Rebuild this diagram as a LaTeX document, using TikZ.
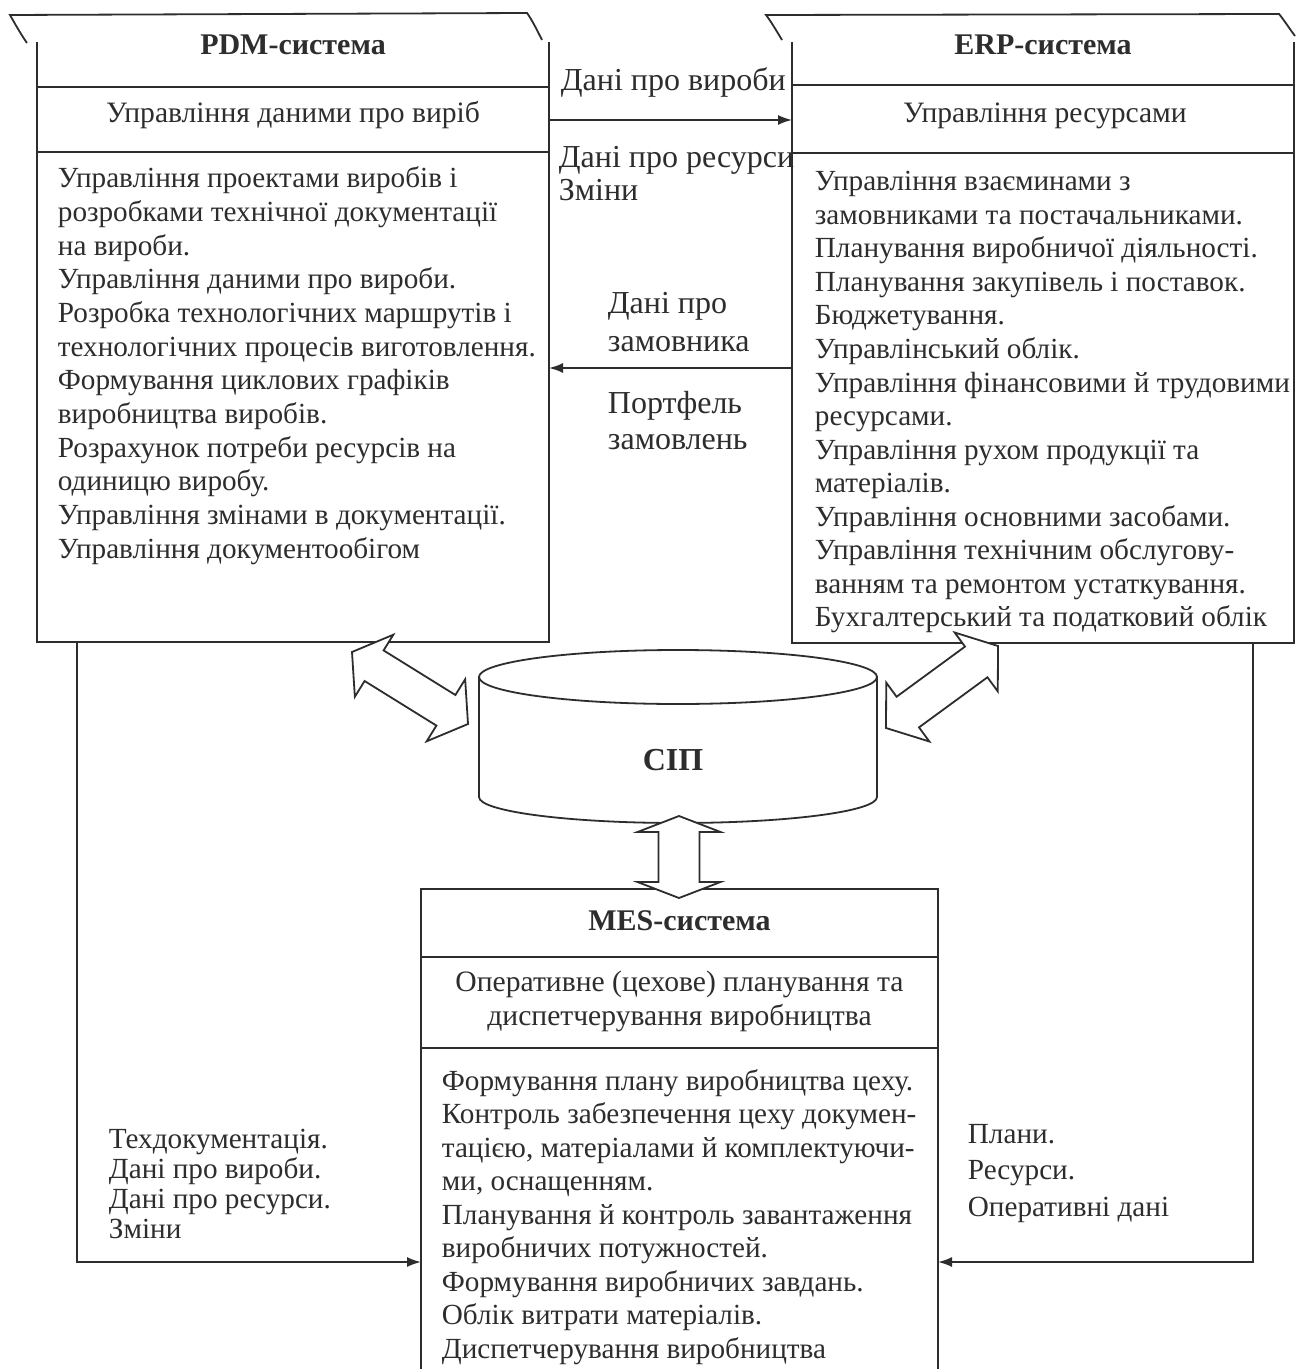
\documentclass[tikz,border=0pt]{standalone}
\usepackage{fontspec}
\setmainfont{Liberation Serif}
\usetikzlibrary{calc,arrows.meta}
\definecolor{ink}{RGB}{45,45,45}
\newcommand\dblarrow[5]{%
  \coordinate (#1h) at ($(#1)!#3!(#2)$);
  \coordinate (#2h) at ($(#2)!#3!(#1)$);
  \filldraw[blk] (#1)
    -- ($(#1h)!#4!90:(#2)$) -- ($(#1h)!#5!90:(#2)$)
    -- ($(#2h)!#5!-90:(#1)$) -- ($(#2h)!#4!-90:(#1)$)
    -- (#2)
    -- ($(#2h)!#4!90:(#1)$) -- ($(#2h)!#5!90:(#1)$)
    -- ($(#1h)!#5!-90:(#2)$) -- ($(#1h)!#4!-90:(#2)$)
    -- cycle;}
\begin{document}
\begin{tikzpicture}[x=0.5pt,y=-0.5pt,color=ink,line width=0.9pt,
  boxn/.style={draw=none,inner sep=0pt,outer sep=0pt},
  txt/.style={anchor=base west,inner sep=0pt,font=\fontsize{14.6}{17}\selectfont},
  mid/.style={anchor=base west,inner sep=0pt,font=\fontsize{16}{18}\selectfont},
  hdr/.style={anchor=base,inner sep=0pt,font=\bfseries\fontsize{15}{17}\selectfont},
  sub/.style={anchor=base,inner sep=0pt,font=\fontsize{14.8}{17}\selectfont},
  conn/.style={-{Latex[length=7pt,width=5pt]},line width=0.9pt},
  blk/.style={fill=white,draw=ink,line width=0.9pt,line join=miter}]
\fill[white] (0,0) rectangle (1295,1369);
\useasboundingbox (0,0) rectangle (1295,1369);

% ---------- boxes ----------
\node[boxn,minimum width=256pt,minimum height=300pt] (pdm) at (293,342) {};
\node[boxn,minimum width=251pt,minimum height=300.5pt] (erp) at (1043,342.5) {};
\node[boxn,minimum width=258.5pt,minimum height=240pt] (mes) at (679.5,1129) {};

% PDM
\draw (27,43) .. controls (20,33) and (14,22) .. (10,15) -- (527,13)
      .. controls (532,20) and (537,30) .. (542,40);
\draw (pdm.north west) -- (pdm.south west) -- (pdm.south east) -- (pdm.north east);
\draw (pdm.west |- 0,87) -- (pdm.east |- 0,87);
\draw (pdm.west |- 0,152) -- (pdm.east |- 0,152);
% ERP
\draw (782,40) .. controls (776,30) and (770,20) .. (766,15) -- (1279,14)
      .. controls (1284,20) and (1289,28) .. (1295,36);
\draw (erp.north west) -- (erp.south west) -- (erp.south east) -- (erp.north east);
\draw (erp.west |- 0,85) -- (erp.east |- 0,85);
\draw (erp.west |- 0,153) -- (erp.east |- 0,153);
% MES
\draw (mes.south west) -- (mes.north west) -- (mes.north east) -- (mes.south east);
\draw (mes.west |- 0,957) -- (mes.east |- 0,957);
\draw (mes.west |- 0,1048) -- (mes.east |- 0,1048);

% ---------- headers ----------
\node[hdr] (pdmh) at (293,55) {PDM-система};
\node[sub] (pdms) at (293,123) {Управління даними про виріб};
\node[hdr] (erph) at (1043,55) {ERP-система};
\node[sub] (erps) at (1045,123) {Управління ресурсами};
\node[hdr] (mesh) at (679.5,930) {MES-система};
\node[sub] (mess1) at (679.5,991) {Оперативне (цехове) планування та};
\node[sub] (mess2) at (679.5,1025) {диспетчерування виробництва};

% ---------- body texts ----------
\foreach \t [count=\i] in {Управління проектами виробів і,
  розробками технічної документації,
  на вироби.,
  Управління даними про вироби.,
  Розробка технологічних маршрутів і,
  технологічних процесів виготовлення.,
  Формування циклових графіків,
  виробництва виробів.,
  Розрахунок потреби ресурсів на,
  одиницю виробу.,
  Управління змінами в документації.,
  Управління документообігом}
  \node[txt] (pdmt\i) at (57,{188+33.65*(\i-1)}) {\t};

\foreach \t [count=\i] in {Управління взаєминами з,
  замовниками та постачальниками.,
  Планування виробничої діяльності.,
  Планування закупівель і поставок.,
  Бюджетування.,
  Управлінський облік.,
  Управління фінансовими й трудовими,
  ресурсами.,
  Управління рухом продукції та,
  матеріалів.,
  Управління основними засобами.,
  Управління технічним обслугову-,
  ванням та ремонтом устаткування.,
  Бухгалтерський та податковий облік}
  \node[txt] (erpt\i) at (814,{191+33.5*(\i-1)}) {\t};

\foreach \t [count=\i] in {Формування плану виробництва цеху.,
  Контроль забезпечення цеху докумен-,
  тацією{,} матеріалами й комплектуючи-,
  ми{,} оснащенням.,
  Планування й контроль завантаження,
  виробничих потужностей.,
  Формування виробничих завдань.,
  Облік витрати матеріалів.,
  Диспетчерування виробництва}
  \node[txt] (mest\i) at (441,{1090+33.5*(\i-1)}) {\t};

% ---------- connectors ----------
\draw[conn] (pdm.east |- 0,120) -- (erp.west |- 0,120);
\draw[conn] (erp.west |- 0,368) -- (pdm.east |- 0,368);
\draw[conn] (pdm.south -| 77,0) |- (mes.west |- 0,1262);
\draw[conn] (erp.south -| 1253,0) |- (mes.east |- 0,1262);

% ---------- connector labels ----------
\node[mid] (l1) at (560,91) {Дані про вироби};
\node[mid] (l2) at (558,168) {Дані про ресурси};
\node[mid] (l3) at (558,201) {Зміни};
\node[mid] (l4) at (607,314) {Дані про};
\node[mid] (l5) at (607,351) {замовника};
\node[mid] (l6) at (607,413) {Портфель};
\node[mid] (l7) at (607,449) {замовлень};

\foreach \t [count=\i] in {Техдокументація., Дані про вироби., Дані про ресурси., Зміни}
  \node[txt] (lb\i) at (108,{1148+30*(\i-1)}) {\t};
\foreach \t [count=\i] in {Плани., Ресурси., Оперативні дані}
  \node[txt] (rb\i) at (967,{1143+36.5*(\i-1)}) {\t};

% ---------- database ----------
\filldraw[fill=white] (479,677) -- (479,797)
  arc[start angle=180,end angle=360,x radius=99.5pt,y radius=13pt] -- (877,677) -- cycle;
\filldraw[fill=white] (678,677) ellipse[x radius=99.5pt,y radius=13.5pt];
\node[anchor=base,inner sep=0pt,font=\bfseries\fontsize{16}{18}\selectfont] (sip) at (673,770) {СІП};

% ---------- block arrows ----------
\coordinate (la1) at (352,652); \coordinate (la2) at (468,724);
\coordinate (ra1) at (998,646); \coordinate (ra2) at (886,728);
\coordinate (va1) at (679,816); \coordinate (va2) at (679,898);
\dblarrow{la1}{la2}{13pt}{18.25pt}{9pt}
\dblarrow{ra1}{ra2}{13.5pt}{18.25pt}{9.5pt}
\dblarrow{va1}{va2}{8pt}{20.75pt}{10.25pt}
\end{tikzpicture}
\end{document}
